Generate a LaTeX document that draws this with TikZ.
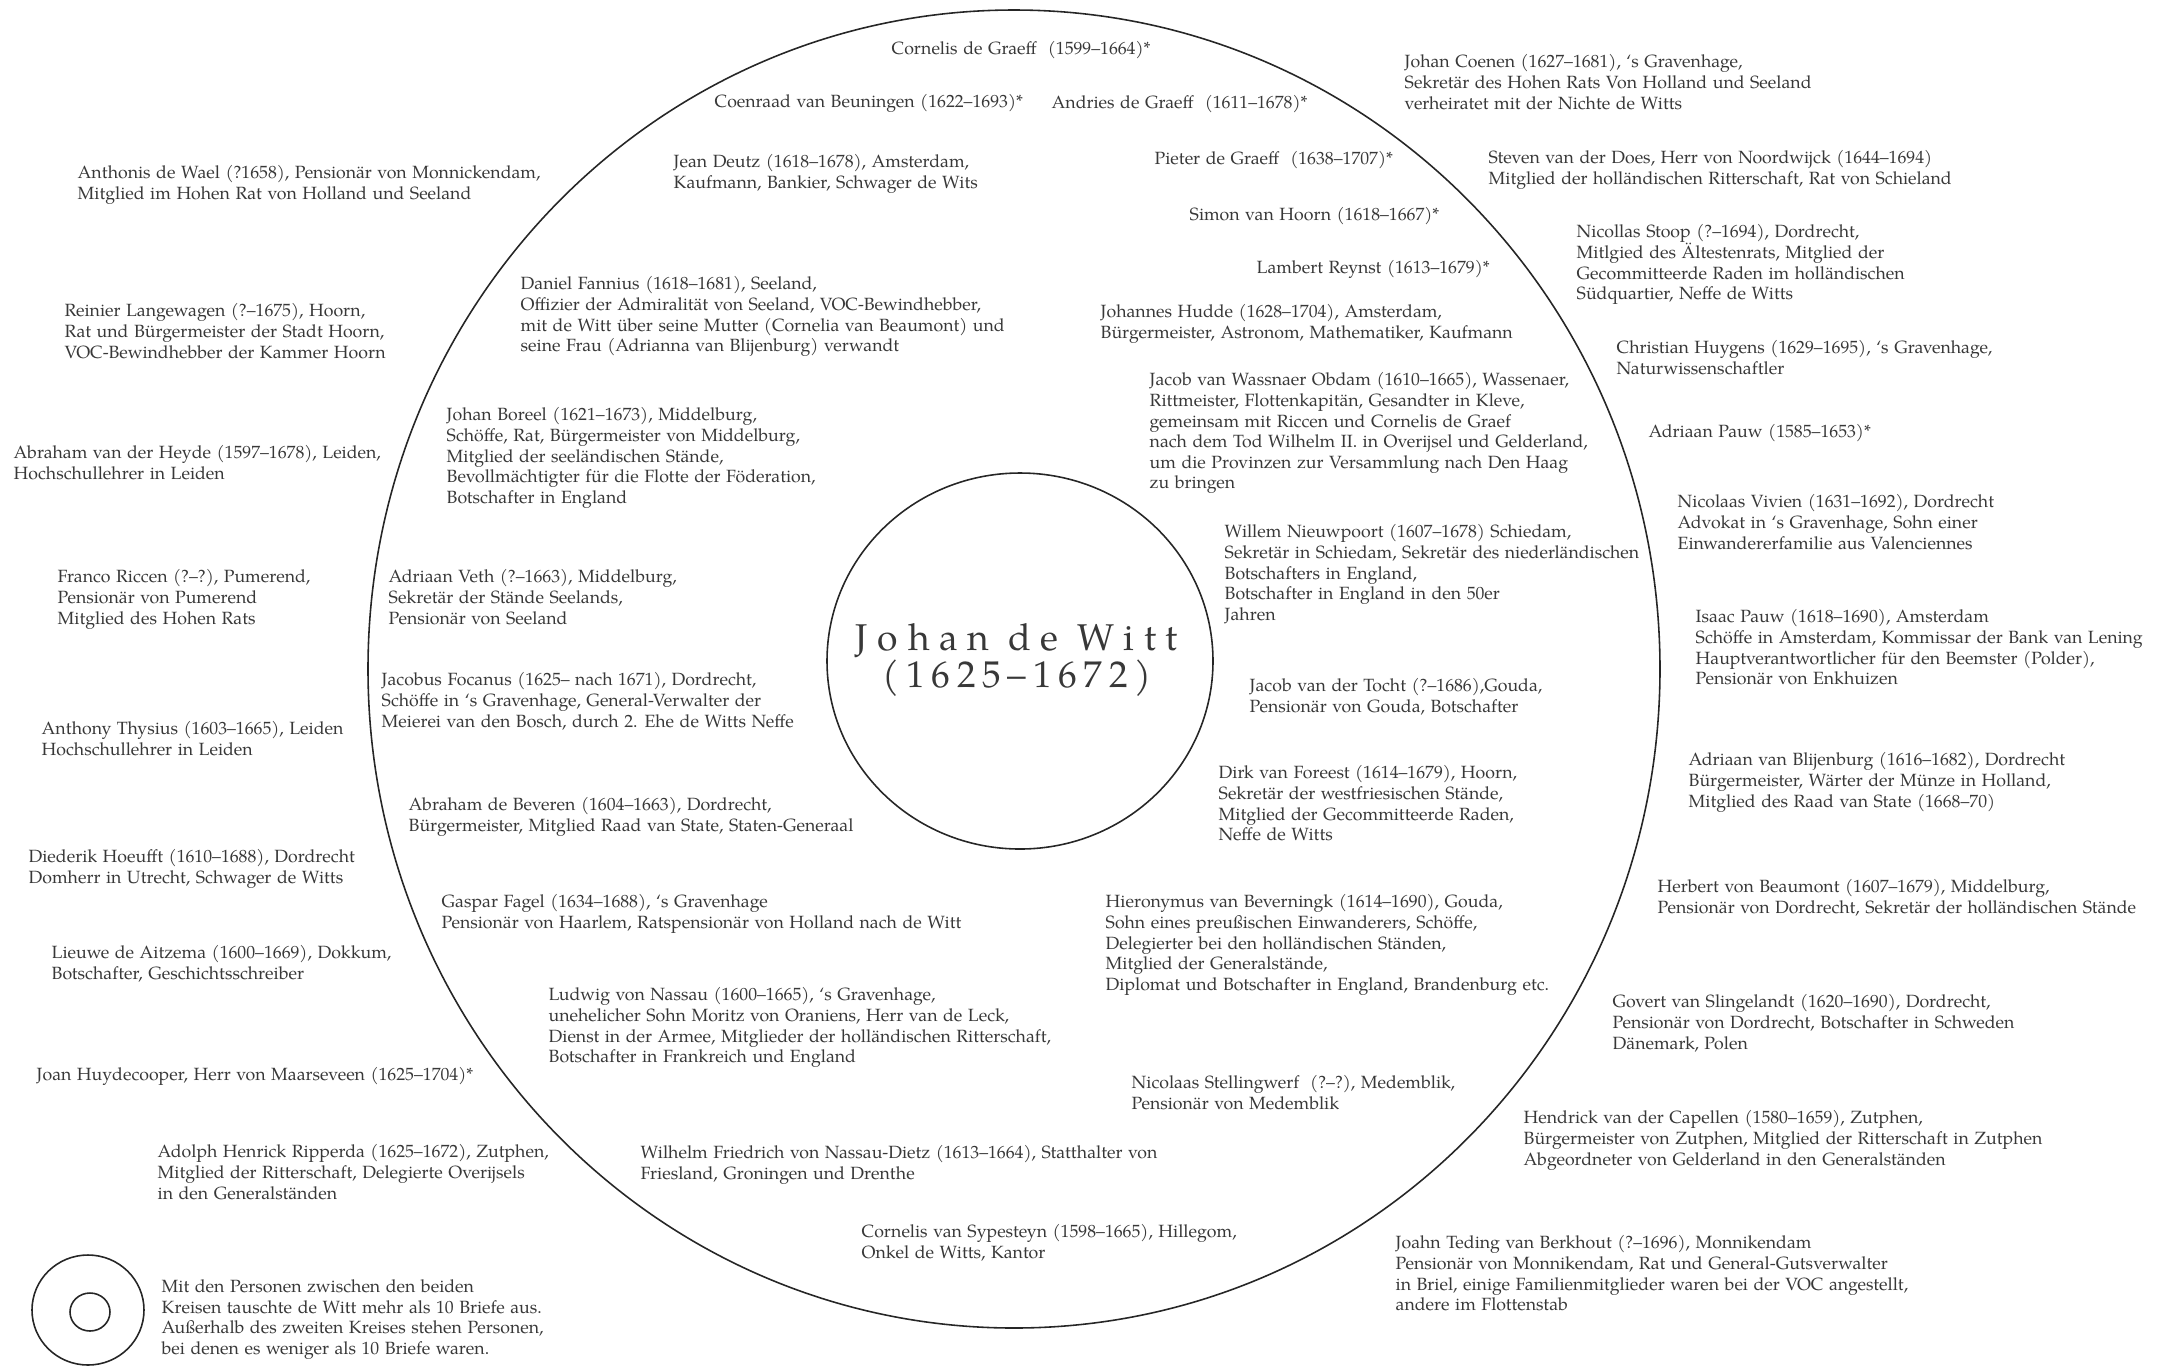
\documentclass[tikz,border=0pt]{standalone}
\usepackage{fontspec}
\setmainfont{TeX Gyre Pagella}
\newfontfamily\persfam{TeX Gyre Pagella}[WordSpace=1.25]
\usetikzlibrary{positioning}

\begin{document}
\begin{tikzpicture}[x=0.1mm, y=-0.1mm,
        person/.style={anchor=north west, inner sep=0pt, align=left, text=black!78,
                font=\persfam\fontsize{5.04pt}{5.85pt}\selectfont},
        ring/.style={draw=black!85, line width=0.45pt},
        title/.style={inner sep=0pt, align=center, text=black!78,
                font=\fontsize{10.6pt}{10.3pt}\selectfont}]
        \useasboundingbox (0,0) rectangle (2165,1366);
        % the two circles
        \draw[ring] (1014,669) ellipse [x radius=646, y radius=659];
        \draw[ring] (1020,661) ellipse [x radius=193, y radius=188];
        \node (witt) [title] at (1017,660) {{\addfontfeature{LetterSpace=26}Johan de Witt}\\{\addfontfeature{LetterSpace=18}(1625–1672)}};
        % between the circles
        \node (cgraeff) [person] at (891,41) {Cornelis de Graeff~ (1599–1664)*};
        \node (beuningen) [person] at (714,94) {Coenraad van Beuningen (1622–1693)*};
        \node (agraeff) [person] at (1051,95) {Andries de Graeff~ (1611–1678)*};
        \node (deutz) [person] at (673,154) {Jean Deutz (1618–1678), Amsterdam,\\Kaufmann, Bankier, Schwager de Wits};
        \node (pgraeff) [person] at (1154,151) {Pieter de Graeff~ (1638–1707)*};
        \node (hoorn) [person] at (1189,207) {Simon van Hoorn (1618–1667)*};
        \node (reynst) [person] at (1256,260) {Lambert Reynst (1613–1679)*};
        \node (fannius) [person] at (520,276) {Daniel Fannius (1618–1681), Seeland,\\Offizier der Admiralität von Seeland, VOC-Bewindhebber,\\mit de Witt über seine Mutter (Cornelia van Beaumont) und\\seine Frau (Adrianna van Blijenburg) verwandt};
        \node (hudde) [person] at (1100,304) {Johannes Hudde (1628–1704), Amsterdam,\\Bürgermeister, Astronom, Mathematiker, Kaufmann};
        \node (obdam) [person] at (1149,372) {Jacob van Wassnaer Obdam (1610–1665), Wassenaer,\\Rittmeister, Flottenkapitän, Gesandter in Kleve,\\gemeinsam mit Riccen und Cornelis de Graef\\nach dem Tod Wilhelm II. in Overijsel und Gelderland,\\um die Provinzen zur Versammlung nach Den Haag\\zu bringen};
        \node (boreel) [person] at (446,407) {Johan Boreel (1621–1673), Middelburg,\\Schöffe, Rat, Bürgermeister von Middelburg,\\Mitglied der seeländischen Stände,\\Bevollmächtigter für die Flotte der Föderation,\\Botschafter in England};
        \node (nieuwpoort) [person] at (1224,524) {Willem Nieuwpoort (1607–1678) Schiedam,\\Sekretär in Schiedam, Sekretär des niederländischen\\Botschafters in England,\\Botschafter in England in den 50er\\Jahren};
        \node (veth) [person] at (388,569) {Adriaan Veth (?–1663), Middelburg,\\Sekretär der Stände Seelands,\\Pensionär von Seeland};
        \node (focanus) [person] at (381,672) {Jacobus Focanus (1625– nach 1671), Dordrecht,\\Schöffe in ‘s Gravenhage, General-Verwalter der\\Meierei van den Bosch, durch 2. Ehe de Witts Neffe};
        \node (tocht) [person] at (1249,678) {Jacob van der Tocht (?–1686),Gouda,\\Pensionär von Gouda, Botschafter};
        \node (foreest) [person] at (1218,765) {Dirk van Foreest (1614–1679), Hoorn,\\Sekretär der westfriesischen Stände,\\Mitglied der Gecommitteerde Raden,\\Neffe de Witts};
        \node (beveren) [person] at (408,797) {Abraham de Beveren (1604–1663), Dordrecht,\\Bürgermeister, Mitglied Raad van State, Staten-Generaal};
        \node (fagel) [person] at (441,894) {Gaspar Fagel (1634–1688), ‘s Gravenhage\\Pensionär von Haarlem, Ratspensionär von Holland nach de Witt};
        \node (beverningk) [person] at (1105,894) {Hieronymus van Beverningk (1614–1690), Gouda,\\Sohn eines preußischen Einwanderers, Schöffe,\\Delegierter bei den holländischen Ständen,\\Mitglied der Generalstände,\\Diplomat und Botschafter in England, Brandenburg etc.};
        \node (nassau) [person] at (548,987) {Ludwig von Nassau (1600–1665), ‘s Gravenhage,\\unehelicher Sohn Moritz von Oraniens, Herr van de Leck,\\Dienst in der Armee, Mitglieder der holländischen Ritterschaft,\\Botschafter in Frankreich und England};
        \node (stellingwerf) [person] at (1131,1075) {Nicolaas Stellingwerf~ (?–?), Medemblik,\\Pensionär von Medemblik};
        \node (dietz) [person] at (640,1145) {Wilhelm Friedrich von Nassau-Dietz (1613–1664), Statthalter von\\Friesland, Groningen und Drenthe};
        \node (sypesteyn) [person] at (861,1224) {Cornelis van Sypesteyn (1598–1665), Hillegom,\\Onkel de Witts, Kantor};
        % outside, left
        \node (wael) [person] at (77,165) {Anthonis de Wael (?1658), Pensionär von Monnickendam,\\Mitglied im Hohen Rat von Holland und Seeland};
        \node (langewagen) [person] at (64,303) {Reinier Langewagen (?–1675), Hoorn,\\Rat und Bürgermeister der Stadt Hoorn,\\VOC-Bewindhebber der Kammer Hoorn};
        \node (heyde) [person] at (13,445) {Abraham van der Heyde (1597–1678), Leiden,\\Hochschullehrer in Leiden};
        \node (riccen) [person] at (57,569) {Franco Riccen (?–?), Pumerend,\\Pensionär von Pumerend\\Mitglied des Hohen Rats};
        \node (thysius) [person] at (41,721) {Anthony Thysius (1603–1665), Leiden\\Hochschullehrer in Leiden};
        \node (hoeufft) [person] at (28,849) {Diederik Hoeufft (1610–1688), Dordrecht\\Domherr in Utrecht, Schwager de Witts};
        \node (aitzema) [person] at (51,945) {Lieuwe de Aitzema (1600–1669), Dokkum,\\Botschafter, Geschichtsschreiber};
        \node (huydecooper) [person] at (36,1067) {Joan Huydecooper, Herr von Maarseveen (1625–1704)*};
        \node (ripperda) [person] at (157,1144) {Adolph Henrick Ripperda (1625–1672), Zutphen,\\Mitglied der Ritterschaft, Delegierte Overijsels\\in den Generalständen};
        % outside, right
        \node (coenen) [person] at (1404,54) {Johan Coenen (1627–1681), ‘s Gravenhage,\\Sekretär des Hohen Rats Von Holland und Seeland\\verheiratet mit der Nichte de Witts};
        \node (does) [person] at (1488,150) {Steven van der Does, Herr von Noordwijck (1644–1694)\\Mitglied der holländischen Ritterschaft, Rat von Schieland};
        \node (stoop) [person] at (1576,224) {Nicollas Stoop (?–1694), Dordrecht,\\Mitlgied des Ältestenrats, Mitglied der\\Gecommitteerde Raden im holländischen\\Südquartier, Neffe de Witts};
        \node (huygens) [person] at (1616,340) {Christian Huygens (1629–1695), ‘s Gravenhage,\\Naturwissenschaftler};
        \node (pauwA) [person] at (1648,424) {Adriaan Pauw (1585–1653)*};
        \node (vivien) [person] at (1677,494) {Nicolaas Vivien (1631–1692), Dordrecht\\Advokat in ‘s Gravenhage, Sohn einer\\Einwandererfamilie aus Valenciennes};
        \node (pauwI) [person] at (1695,609) {Isaac Pauw (1618–1690), Amsterdam\\Schöffe in Amsterdam, Kommissar der Bank van Lening\\Hauptverantwortlicher für den Beemster (Polder),\\Pensionär von Enkhuizen};
        \node (blijenburg) [person] at (1688,752) {Adriaan van Blijenburg (1616–1682), Dordrecht\\Bürgermeister, Wärter der Münze in Holland,\\Mitglied des Raad van State (1668–70)};
        \node (beaumont) [person] at (1657,879) {Herbert von Beaumont (1607–1679), Middelburg,\\Pensionär von Dordrecht, Sekretär der holländischen Stände};
        \node (slingelandt) [person] at (1612,994) {Govert van Slingelandt (1620–1690), Dordrecht,\\Pensionär von Dordrecht, Botschafter in Schweden\\Dänemark, Polen};
        \node (capellen) [person] at (1523,1110) {Hendrick van der Capellen (1580–1659), Zutphen,\\Bürgermeister von Zutphen, Mitglied der Ritterschaft in Zutphen\\Abgeordneter von Gelderland in den Generalständen};
        \node (teding) [person] at (1395,1235) {Joahn Teding van Berkhout (?–1696), Monnikendam\\Pensionär von Monnikendam, Rat und General-Gutsverwalter\\in Briel, einige Familienmitglieder waren bei der VOC angestellt,\\andere im Flottenstab};
        % legend
        \draw[ring] (88,1310) ellipse [x radius=56, y radius=55];
        \draw[ring] (90,1312) ellipse [x radius=20, y radius=19];
        \node (legend) [person] at (161,1279) {Mit den Personen zwischen den beiden\\Kreisen tauschte de Witt mehr als 10 Briefe aus.\\Außerhalb des zweiten Kreises stehen Personen,\\bei denen es weniger als 10 Briefe waren.};
\end{tikzpicture}
\end{document}
